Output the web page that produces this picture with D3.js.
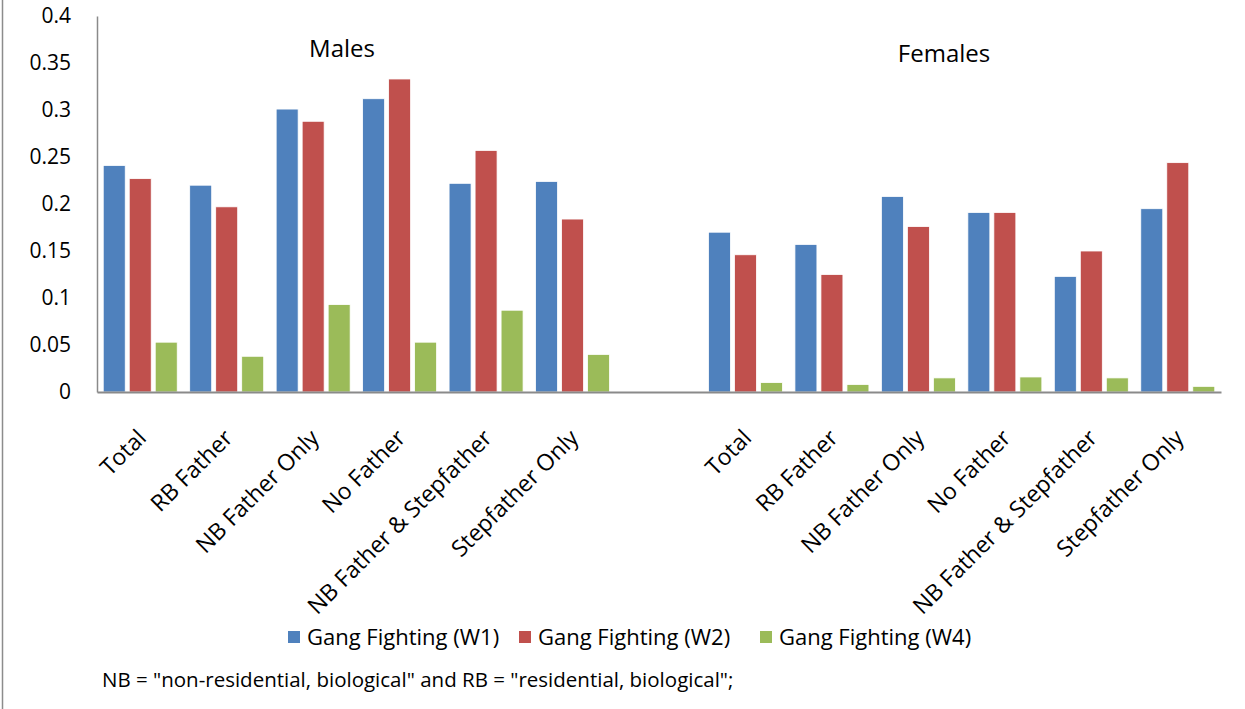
<!DOCTYPE html>
<html>
<head>
<meta charset="utf-8">
<script src="https://cdn.jsdelivr.net/npm/d3@7"></script>
<style>
  html, body { margin: 0; padding: 0; background: #fff; }
  svg { display: block; font-family: "Open Sans", Lato, sans-serif; }
</style>
</head>
<body>
<svg id="chart" width="1245" height="709"></svg>
<script>
// ---- data ----
const categories = ["Total", "RB Father", "NB Father Only", "No Father", "NB Father & Stepfather", "Stepfather Only"];
const groups = ["Males", "Females"];
const seriesNames = ["Gang Fighting (W1)", "Gang Fighting (W2)", "Gang Fighting (W4)"];
const seriesColors = ["#4F81BD", "#C0504D", "#9BBB59"];

const malesW1 = [0.241, 0.220, 0.301, 0.312, 0.222, 0.224];
const malesW2 = [0.227, 0.197, 0.288, 0.333, 0.257, 0.184];
const malesW4 = [0.053, 0.038, 0.093, 0.053, 0.087, 0.040];
const femalesW1 = [0.170, 0.157, 0.208, 0.191, 0.123, 0.195];
const femalesW2 = [0.146, 0.125, 0.176, 0.191, 0.150, 0.244];
const femalesW4 = [0.010, 0.008, 0.015, 0.016, 0.015, 0.006];

const yTickValues = [0, 0.05, 0.1, 0.15, 0.2, 0.25, 0.3, 0.35, 0.4];
const yTickLabels = ["0", "0.05", "0.1", "0.15", "0.2", "0.25", "0.3", "0.35", "0.4"];
const note = 'NB = "non-residential, biological" and RB = "residential, biological";';

// ---- build rows ----
const slots = [];
categories.forEach((c, i) => slots.push({key: "M" + i, label: c, values: [malesW1[i], malesW2[i], malesW4[i]]}));
slots.push({key: "gap", label: "", values: null});
categories.forEach((c, i) => slots.push({key: "F" + i, label: c, values: [femalesW1[i], femalesW2[i], femalesW4[i]]}));
const labelOf = new Map(slots.map(s => [s.key, s.label]));

// ---- layout ----
const svg = d3.select("#chart");
const plot = {left: 97, right: 1221, top: 16, bottom: 392};
const font = "'Open Sans', Lato, sans-serif";

const x0 = d3.scaleBand().domain(slots.map(s => s.key)).range([plot.left, plot.right]).padding(0);
const groupW = 78;
const x1 = d3.scaleBand().domain(seriesNames)
  .range([(x0.bandwidth() - groupW) / 2, (x0.bandwidth() + groupW) / 2]).padding(0);
const y = d3.scaleLinear().domain([0, 0.4]).range([plot.bottom, plot.top]);

// outer border (left edge visible)
svg.append("line").attr("x1", 2.5).attr("x2", 2.5).attr("y1", 0).attr("y2", 709)
  .attr("stroke", "#8c8c8c").attr("stroke-width", 1.5);

// bars
const barGap = 4;
const slotG = svg.append("g").selectAll("g").data(slots.filter(s => s.values)).join("g")
  .attr("transform", d => `translate(${x0(d.key)},0)`);
slotG.selectAll("rect").data(d => d.values.map((v, i) => ({v, i}))).join("rect")
  .attr("x", d => x1(seriesNames[d.i]) + barGap / 2)
  .attr("width", x1.bandwidth() - barGap)
  .attr("y", d => y(d.v))
  .attr("height", d => y(0) - y(d.v))
  .attr("fill", d => seriesColors[d.i])
  .attr("stroke", "#ffffff").attr("stroke-width", 0.8);

// y axis
const yAxis = svg.append("g").attr("transform", `translate(${plot.left},0)`)
  .call(d3.axisLeft(y).tickValues(yTickValues).tickFormat((d, i) => yTickLabels[i]).tickSize(0).tickPadding(26));
yAxis.select(".domain").attr("stroke", "#8a8a8a").attr("stroke-width", 1.5);
yAxis.selectAll("text").attr("font-family", font).attr("font-size", 21).attr("fill", "#000");

// x axis
const xAxis = svg.append("g").attr("transform", `translate(0,${plot.bottom})`)
  .call(d3.axisBottom(x0).tickFormat(k => labelOf.get(k)).tickSize(0).tickPadding(0));
xAxis.select(".domain").attr("stroke", "#8a8a8a").attr("stroke-width", 2);
xAxis.selectAll("text")
  .attr("font-family", font).attr("font-size", 23).attr("fill", "#000")
  .attr("text-anchor", "end")
  .attr("dy", null).attr("y", null)
  .attr("dominant-baseline", "central")
  .attr("transform", "translate(1,41) rotate(-45)");

// group titles
svg.append("text").attr("x", 342).attr("y", 57).attr("text-anchor", "middle")
  .attr("font-size", 24).text(groups[0]);
svg.append("text").attr("x", 944).attr("y", 62).attr("text-anchor", "middle")
  .attr("font-size", 24).text(groups[1]);

// legend
const legendX = [288, 519, 760];
const leg = svg.append("g").selectAll("g").data(seriesNames).join("g")
  .attr("transform", (d, i) => `translate(${legendX[i]},631)`);
leg.append("rect").attr("width", 12).attr("height", 12).attr("fill", (d, i) => seriesColors[i]);
leg.append("text").attr("x", 19).attr("y", 14).attr("font-size", 22).attr("fill", "#000").text(d => d);

// note
svg.append("text").attr("x", 102).attr("y", 687).attr("font-size", 20.5).attr("fill", "#000").text(note);
</script>
</body>
</html>
